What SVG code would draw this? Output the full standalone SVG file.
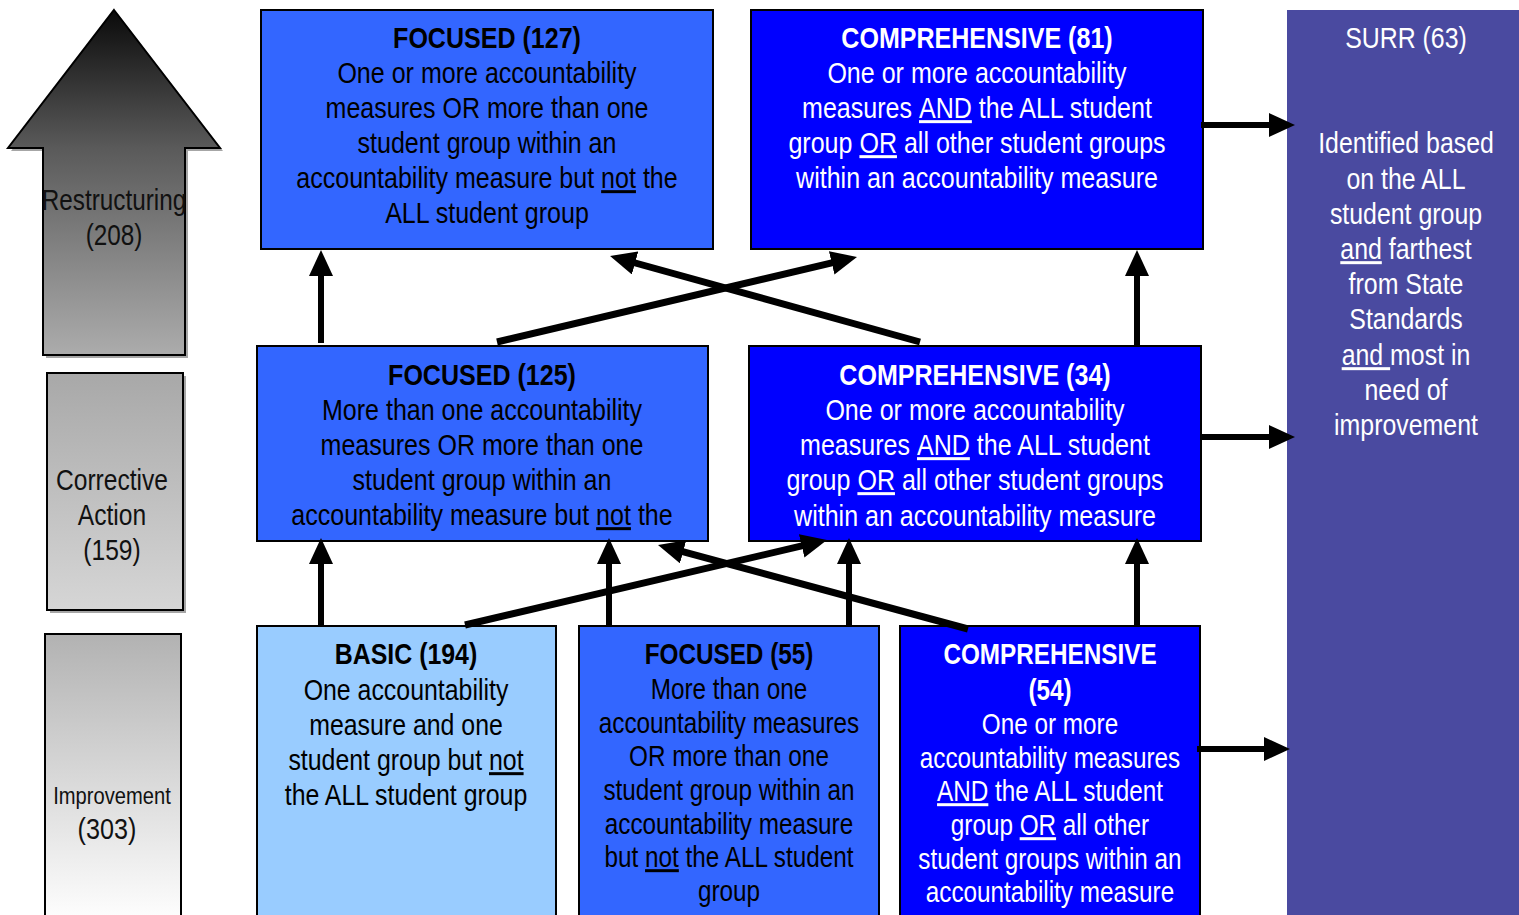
<svg xmlns="http://www.w3.org/2000/svg" width="1519" height="915" viewBox="0 0 1519 915">
<style>
text{font-family:"Liberation Sans Narrow","Arial Narrow","Liberation Sans",sans-serif;font-size:30px;text-anchor:middle}
.t{font-weight:bold}
.k{fill:#000}
.w{fill:#fff}
.g{fill:#111}
.u{text-decoration:underline}
.box{stroke:#000;stroke-width:2}
.foc{fill:#3366FF}
.comp{fill:#0000FF}
.basic{fill:#99CCFF}
.shadow{fill:#808080}
.conn line{stroke:#000;stroke-width:6}
.conn .d{stroke-width:7}
</style>
<defs>
<linearGradient id="gArrow" x1="0" y1="0" x2="0" y2="1">
<stop offset="0" stop-color="#0a0a0a"/>
<stop offset="0.4" stop-color="#5a5a5a"/>
<stop offset="1" stop-color="#acacac"/>
</linearGradient>
<linearGradient id="gCorr" x1="0" y1="0" x2="0" y2="1">
<stop offset="0" stop-color="#a8a8a8"/>
<stop offset="1" stop-color="#d6d6d6"/>
</linearGradient>
<linearGradient id="gImp" x1="0" y1="0" x2="0" y2="1">
<stop offset="0" stop-color="#b2b2b2"/>
<stop offset="1" stop-color="#ffffff"/>
</linearGradient>
<marker id="ah" markerUnits="userSpaceOnUse" markerWidth="26" markerHeight="24" viewBox="0 0 26 24" refX="11" refY="12" orient="auto">
<path d="M0,0 L26,12 L0,24 Z" fill="#000"/>
</marker>
</defs>

<g id="restructuring">
<polygon points="117,13 223,151 188,151 188,358 46,358 46,151 11,151" class="shadow" opacity="0.7"/>
<polygon points="114,10 220,148 185,148 185,355 43,355 43,148 8,148" fill="url(#gArrow)" stroke="#000" stroke-width="2"/>
<g transform="translate(114 -1) scale(0.81 1)">
<text class="g" x="0" y="211">Restructuring</text>
<text class="g" x="0" y="246">(208)</text>
</g>
</g>

<g id="corrective">
<rect x="50" y="376" width="136" height="237" class="shadow" opacity="0.7"/>
<rect x="47" y="373" width="136" height="237" fill="url(#gCorr)" class="box"/>
<g transform="translate(112 -1) scale(0.82 1)">
<text class="g" x="0" y="491">Corrective</text>
<text class="g" x="0" y="526">Action</text>
<text class="g" x="0" y="561">(159)</text>
</g>
</g>

<g id="improvement">
<rect x="45" y="634" width="136" height="290" fill="url(#gImp)" class="box"/>
<g transform="translate(112 -1) scale(0.84 1)">
<text class="g" x="0" y="805" style="font-size:24px">Improvement</text>
<text class="g" x="-6" y="840">(303)</text>
</g>
</g>

<g id="focused127">
<rect x="261" y="10" width="452" height="239" class="box foc"/>
<g transform="translate(487 -1) scale(0.835 1)">
<text class="k t" x="0" y="49">FOCUSED (127)</text>
<text class="k" x="0" y="84">One or more accountability</text>
<text class="k" x="0" y="119">measures OR more than one</text>
<text class="k" x="0" y="154">student group within an</text>
<text class="k" x="0" y="189">accountability measure but <tspan class="u">not</tspan> the</text>
<text class="k" x="0" y="224">ALL student group</text>
</g>
</g>

<g id="comprehensive81">
<rect x="751" y="10" width="452" height="239" class="box comp"/>
<g transform="translate(977 -1) scale(0.835 1)">
<text class="w t" x="0" y="49">COMPREHENSIVE (81)</text>
<text class="w" x="0" y="84">One or more accountability</text>
<text class="w" x="0" y="119">measures <tspan class="u">AND</tspan> the ALL student</text>
<text class="w" x="0" y="154">group <tspan class="u">OR</tspan> all other student groups</text>
<text class="w" x="0" y="189">within an accountability measure</text>
</g>
</g>

<g id="surr">
<rect x="1287" y="10" width="240" height="915" fill="#4A4AA0"/>
<g transform="translate(1406 -1) scale(0.83 1)">
<text class="w" x="0" y="49">SURR (63)</text>
<text class="w" x="0" y="154">Identified based</text>
<text class="w" x="0" y="190">on the ALL</text>
<text class="w" x="0" y="225">student group</text>
<text class="w" x="0" y="260"><tspan class="u">and</tspan> farthest</text>
<text class="w" x="0" y="295">from State</text>
<text class="w" x="0" y="330">Standards</text>
<text class="w" x="0" y="366"><tspan class="u">and </tspan>most in</text>
<text class="w" x="0" y="401">need of</text>
<text class="w" x="0" y="436">improvement</text>
</g>
</g>

<g id="focused125">
<rect x="257" y="346" width="451" height="195" class="box foc"/>
<g transform="translate(482 -1) scale(0.835 1)">
<text class="k t" x="0" y="386">FOCUSED (125)</text>
<text class="k" x="0" y="421">More than one accountability</text>
<text class="k" x="0" y="456">measures OR more than one</text>
<text class="k" x="0" y="491">student group within an</text>
<text class="k" x="0" y="526">accountability measure but <tspan class="u">not</tspan> the</text>
</g>
</g>

<g id="comprehensive34">
<rect x="749" y="346" width="452" height="195" class="box comp"/>
<g transform="translate(975 -1) scale(0.835 1)">
<text class="w t" x="0" y="386">COMPREHENSIVE (34)</text>
<text class="w" x="0" y="421">One or more accountability</text>
<text class="w" x="0" y="456">measures <tspan class="u">AND</tspan> the ALL student</text>
<text class="w" x="0" y="491">group <tspan class="u">OR</tspan> all other student groups</text>
<text class="w" x="0" y="527">within an accountability measure</text>
</g>
</g>

<g id="basic194">
<rect x="257" y="626" width="299" height="300" class="box basic"/>
<g transform="translate(406 -1) scale(0.83 1)">
<text class="k t" x="0" y="665">BASIC (194)</text>
<text class="k" x="0" y="701">One accountability</text>
<text class="k" x="0" y="736">measure and one</text>
<text class="k" x="0" y="771">student group but <tspan class="u">not</tspan></text>
<text class="k" x="0" y="806">the ALL student group</text>
</g>
</g>

<g id="focused55">
<rect x="579" y="626" width="300" height="300" class="box foc"/>
<g transform="translate(729 -1) scale(0.81 1)">
<text class="k t" x="0" y="665">FOCUSED (55)</text>
<text class="k" x="0" y="700">More than one</text>
<text class="k" x="0" y="734">accountability measures</text>
<text class="k" x="0" y="767">OR more than one</text>
<text class="k" x="0" y="801">student group within an</text>
<text class="k" x="0" y="835">accountability measure</text>
<text class="k" x="0" y="868">but <tspan class="u">not</tspan> the ALL student</text>
<text class="k" x="0" y="902">group</text>
</g>
</g>

<g id="comprehensive54">
<rect x="900" y="626" width="300" height="300" class="box comp"/>
<g transform="translate(1050 -1) scale(0.81 1)">
<text class="w t" x="0" y="665">COMPREHENSIVE</text>
<text class="w t" x="0" y="701">(54)</text>
<text class="w" x="0" y="735">One or more</text>
<text class="w" x="0" y="769">accountability measures</text>
<text class="w" x="0" y="802"><tspan class="u">AND</tspan> the ALL student</text>
<text class="w" x="0" y="836">group <tspan class="u">OR</tspan> all other</text>
<text class="w" x="0" y="870">student groups within an</text>
<text class="w" x="0" y="903">accountability measure</text>
</g>
</g>

<g id="connectors" class="conn">
<line x1="321" y1="343" x2="321" y2="265" marker-end="url(#ah)"/>
<line x1="1137" y1="345" x2="1137" y2="265" marker-end="url(#ah)"/>
<line class="d" x1="497" y1="342" x2="842.4" y2="260.4" marker-end="url(#ah)"/>
<line class="d" x1="920" y1="342" x2="624.5" y2="260" marker-end="url(#ah)"/>
<line x1="321" y1="627" x2="321" y2="553" marker-end="url(#ah)"/>
<line x1="609" y1="627" x2="609" y2="553" marker-end="url(#ah)"/>
<line x1="849" y1="627" x2="849" y2="553" marker-end="url(#ah)"/>
<line x1="1137" y1="627" x2="1137" y2="553" marker-end="url(#ah)"/>
<line class="d" x1="465" y1="625" x2="812.4" y2="543.4" marker-end="url(#ah)"/>
<line class="d" x1="968" y1="629" x2="672.5" y2="548.9" marker-end="url(#ah)"/>
<line x1="1201" y1="125" x2="1280" y2="125" marker-end="url(#ah)"/>
<line x1="1201" y1="437" x2="1280" y2="437" marker-end="url(#ah)"/>
<line x1="1197" y1="749" x2="1275" y2="749" marker-end="url(#ah)"/>
</g>
</svg>
